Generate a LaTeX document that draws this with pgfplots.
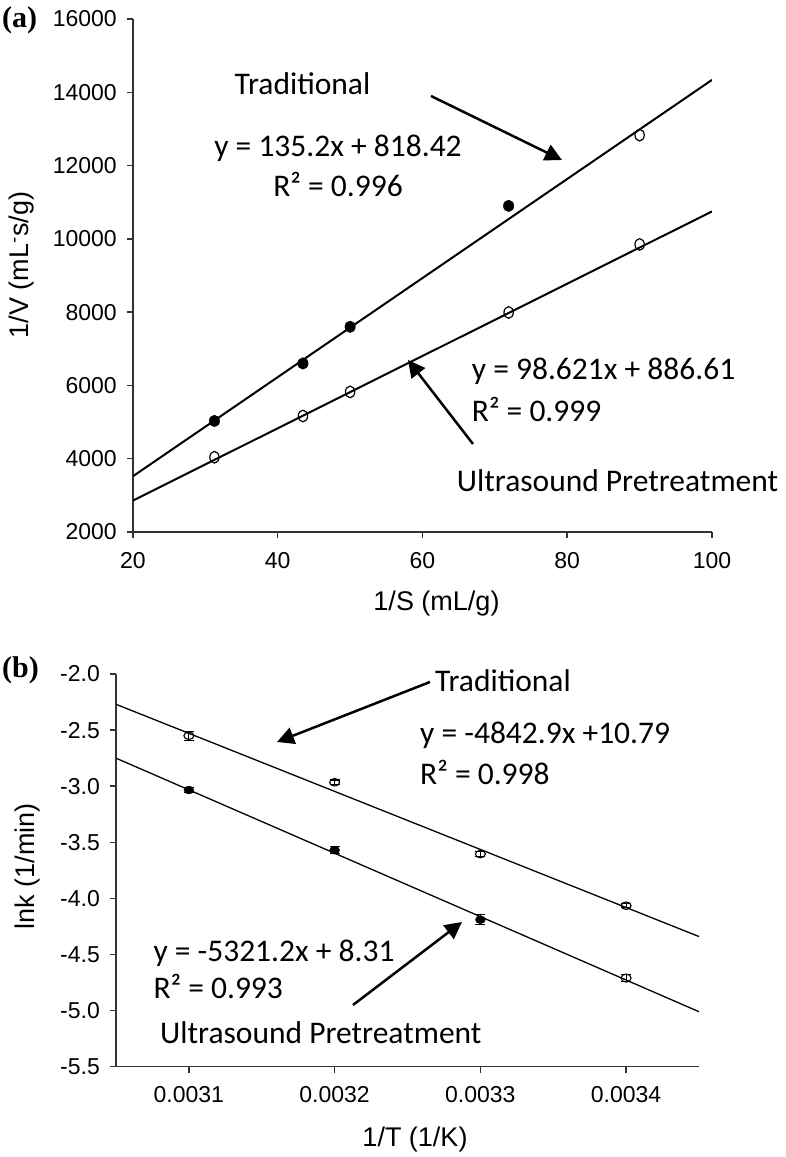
\documentclass[border=0pt]{standalone}
\usepackage{pgfplots}
\pgfplotsset{compat=1.18}
\usepackage{fontspec}
\setmainfont{Liberation Sans}
\newfontfamily\calfont{Carlito}
\newfontfamily\tnrfont{Liberation Serif}
\usetikzlibrary{arrows.meta}
\newcommand\tickfont{\fontsize{23}{23}\selectfont}
\newcommand\labfont{\fontsize{27}{27}\selectfont}
\newcommand\annfont{\calfont\fontsize{31.5}{31.5}\selectfont}
\pgfplotsset{myax/.style={
  scale only axis, axis lines*=left,
  axis line style={line width=1.5pt, black!80},
  tick style={line width=1.5pt, black!80},
  tick align=outside, major tick length=6pt,
  ticklabel style={font=\tickfont},
  yticklabel style={anchor=east, inner sep=0pt, xshift=-10pt},
  xticklabel style={anchor=north, inner sep=0pt, yshift=-14pt},
  scaled x ticks=false, scaled y ticks=false,
}}
\begin{document}
\begin{tikzpicture}
\path[use as bounding box] (0,0) rectangle (786pt,1157pt);
% ---------- panel (a)
\begin{axis}[myax, at={(133pt,625pt)}, anchor=south west,
  width=579pt, height=513pt,
  xmin=20, xmax=100, ymin=2000, ymax=16000,
  xtick={20,40,60,80,100}, xticklabels={20,40,60,80,100},
  ytick={2000,4000,6000,8000,10000,12000,14000,16000},
  yticklabels={2000,4000,6000,8000,10000,12000,14000,16000}]
\addplot[black, line width=2pt] coordinates {(20,3522.4) (100,14338.4)};
\addplot[black, line width=2pt] coordinates {(20,2858.0) (100,10748.7)};
\addplot[only marks, mark=*, mark size=5.8pt, mark options={xscale=0.9, fill=black, draw=black}]
  coordinates {(31.25,5030) (43.48,6600) (50,7600) (71.9,10900)};
\addplot[only marks, mark=o, mark size=5.8pt, mark options={xscale=0.8, fill=white, draw=black, line width=1.2pt}]
  coordinates {(90,12830)};
\addplot[only marks, mark=o, mark size=5.8pt, mark options={xscale=0.8, fill=white, draw=black, line width=1.2pt}]
  coordinates {(31.25,4040) (43.48,5165) (50,5823) (71.9,7990) (90,9848)};
\end{axis}
% ---------- panel (b)
\begin{axis}[myax, at={(116pt,90.3pt)}, anchor=south west,
  width=583pt, height=392.7pt,
  xmin=0.00305, xmax=0.00345, ymin=-5.5, ymax=-2,
  xtick={0.0031,0.0032,0.0033,0.0034}, xticklabels={0.0031,0.0032,0.0033,0.0034},
  ytick={-5.5,-5,-4.5,-4,-3.5,-3,-2.5,-2},
  yticklabels={-5.5,-5.0,-4.5,-4.0,-3.5,-3.0,-2.5,-2.0}]
\addplot[black, line width=1.3pt] coordinates {(0.00305,-2.27) (0.00345,-4.34)};
\addplot[black, line width=1.3pt] coordinates {(0.00305,-2.75) (0.00345,-5.01)};
\addplot[only marks, mark=o, mark size=5pt, mark options={yscale=0.75, fill=white, draw=black, line width=1.1pt},
  error bars/.cd, y dir=both, y explicit, error mark options={rotate=90, mark size=5pt, line width=1.1pt}, error bar style={line width=1.1pt}]
  coordinates {(0.0031,-2.55) +- (0,0.04) (0.0032,-2.965) +- (0,0.02) (0.0033,-3.605) +- (0,0.02) (0.0034,-4.065) +- (0,0.02)};
\addplot[only marks, mark=*, mark size=5pt, mark options={yscale=0.8, fill=black, draw=black},
  error bars/.cd, y dir=both, y explicit, error mark options={rotate=90, mark size=5pt, line width=1.1pt}, error bar style={line width=1.1pt}]
  coordinates {(0.0031,-3.034) +- (0,0.02) (0.0032,-3.57) +- (0,0.03) (0.0033,-4.19) +- (0,0.045)};
\addplot[only marks, mark=o, mark size=5pt, mark options={yscale=0.8, fill=white, draw=black, line width=1.1pt},
  error bars/.cd, y dir=both, y explicit, error mark options={rotate=90, mark size=5pt, line width=1.1pt}, error bar style={line width=1.1pt}]
  coordinates {(0.0034,-4.71) +- (0,0.03)};
\end{axis}
% ---------- axis titles
\node[font=\labfont, anchor=base] at (436.5pt,546.7pt) {1/S (mL/g)};
\node[font=\labfont, rotate=90] at (22pt,892pt) {1/V (mL\textsuperscript{-}s/g)};
\node[font=\labfont, anchor=base] at (415pt,10.3pt) {1/T (1/K)};
\node[font=\labfont, rotate=90] at (28pt,291pt) {lnk (1/min)};
% ---------- panel letters
\node[font=\tnrfont\bfseries\fontsize{30}{30}\selectfont, anchor=base west, inner sep=0pt] at (2pt,1129pt) {(a)};
\node[font=\tnrfont\bfseries\fontsize{30}{30}\selectfont, anchor=base west, inner sep=0pt] at (2pt,479pt) {(b)};
% ---------- annotations (a)
\node[font=\annfont, anchor=base, inner sep=0pt] at (302.5pt,1062.7pt) {Traditional};
\node[font=\annfont, anchor=base, inner sep=0pt] at (338pt,1000.3pt) {y = 135.2x + 818.42};
\node[font=\annfont, anchor=base, inner sep=0pt] at (338pt,960.3pt) {R² = 0.996};
\node[font=\annfont, anchor=base west, inner sep=0pt] at (471.7pt,777pt) {y = 98.621x + 886.61};
\node[font=\annfont, anchor=base west, inner sep=0pt] at (471.7pt,735.3pt) {R² = 0.999};
\node[font=\annfont, anchor=base west, inner sep=0pt] at (456.7pt,665.3pt) {Ultrasound Pretreatment};
\draw[line width=2.5pt, -{Triangle[length=17pt,width=17pt]}] (431pt,1061pt) -- (562pt,997pt);
\draw[line width=2.5pt, -{Triangle[length=17pt,width=17pt]}] (473pt,713pt) -- (408pt,797pt);
% ---------- annotations (b)
\node[font=\annfont, anchor=base west, inner sep=0pt] at (435pt,465.3pt) {Traditional};
\node[font=\annfont, anchor=base west, inner sep=0pt] at (420pt,413.7pt) {y = -4842.9x +10.79};
\node[font=\annfont, anchor=base west, inner sep=0pt] at (420pt,372pt) {R² = 0.998};
\node[font=\annfont, anchor=base west, inner sep=0pt] at (153.3pt,195.3pt) {y = -5321.2x + 8.31};
\node[font=\annfont, anchor=base west, inner sep=0pt] at (153.3pt,158.7pt) {R² = 0.993};
\node[font=\annfont, anchor=base west, inner sep=0pt] at (160pt,113.7pt) {Ultrasound Pretreatment};
\draw[line width=2.5pt, -{Triangle[length=17pt,width=17pt]}] (430pt,475pt) -- (277pt,415pt);
\draw[line width=2.5pt, -{Triangle[length=17pt,width=17pt]}] (353pt,152pt) -- (462pt,235pt);
\end{tikzpicture}
\end{document}
